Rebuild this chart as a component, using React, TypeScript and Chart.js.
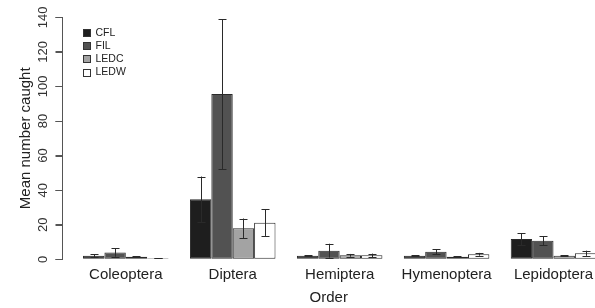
import React, { useEffect, useRef } from "react";
import { Chart, registerables } from "chart.js";

Chart.register(...registerables);

const categories = ["Coleoptera", "Diptera", "Hemiptera", "Hymenoptera", "Lepidoptera"];
const seriesNames = ["CFL", "FIL", "LEDC", "LEDW"];
const cflMean = [2.0, 34.7, 2.1, 2.1, 11.7];
const cflErr = [0.8, 13.2, 0.3, 0.3, 3.5];
const filMean = [4.0, 95.6, 5.0, 4.4, 10.8];
const filErr = [2.5, 43.4, 4.0, 1.4, 2.6];
const ledcMean = [1.5, 17.9, 2.3, 1.5, 2.0];
const ledcErr = [0.4, 5.7, 0.8, 0.4, 0.3];
const ledwMean = [0.6, 21.2, 2.3, 2.9, 3.5];
const ledwErr = [0.1, 7.7, 1.0, 0.8, 1.5];
const yTicks = [0, 20, 40, 60, 80, 100, 120, 140];

const seriesMeans = [cflMean, filMean, ledcMean, ledwMean];
const seriesErrs = [cflErr, filErr, ledcErr, ledwErr];
const seriesColors = ["#1e1e1e", "#525252", "#a3a3a3", "#ffffff"];

const FONT = "'Liberation Sans', Arial, Helvetica, sans-serif";

const errorBarPlugin = {
  id: "errorBars",
  afterDatasetsDraw(chart: any) {
    const ctx = chart.ctx;
    const y = chart.scales.y;
    ctx.save();
    ctx.strokeStyle = "#2a2a2a";
    ctx.lineWidth = 1;
    chart.data.datasets.forEach((ds: any, di: number) => {
      const meta = chart.getDatasetMeta(di);
      meta.data.forEach((bar: any, i: number) => {
        const v = ds.data[i].y;
        const e = ds.errors[i];
        const x = Math.round(bar.x) + 0.5;
        const yT = y.getPixelForValue(v + e);
        const yB = y.getPixelForValue(v - e);
        ctx.beginPath();
        ctx.moveTo(x, yT);
        ctx.lineTo(x, yB);
        ctx.moveTo(x - 4, Math.round(yT) + 0.5);
        ctx.lineTo(x + 4, Math.round(yT) + 0.5);
        ctx.moveTo(x - 4, Math.round(yB) + 0.5);
        ctx.lineTo(x + 4, Math.round(yB) + 0.5);
        ctx.stroke();
      });
    });
    ctx.restore();
  },
};

const yAxisLinePlugin = {
  id: "yAxisLine",
  afterDraw(chart: any) {
    const ctx = chart.ctx;
    const y = chart.scales.y;
    const x = Math.round(chart.chartArea.left) - 0.5;
    ctx.save();
    ctx.strokeStyle = "#555555";
    ctx.lineWidth = 1;
    ctx.beginPath();
    const top = Math.round(y.getPixelForValue(yTicks[yTicks.length - 1])) + 0.5;
    const bottom = Math.round(y.getPixelForValue(yTicks[0])) + 0.5;
    ctx.moveTo(x, top);
    ctx.lineTo(x, bottom);
    y.ticks.forEach((t: any) => {
      const py = Math.round(y.getPixelForValue(t.value)) + 0.5;
      ctx.moveTo(x - 7, py);
      ctx.lineTo(x, py);
    });
    ctx.stroke();
    ctx.restore();
  },
};

const legendPlugin = {
  id: "innerLegend",
  afterDraw(chart: any) {
    const ctx = chart.ctx;
    const area = chart.chartArea;
    ctx.save();
    ctx.font = `10.5px ${FONT}`;
    ctx.textBaseline = "middle";
    ctx.textAlign = "left";
    chart.data.datasets.forEach((ds: any, i: number) => {
      const cy = area.top + 15.4 + i * 13.1;
      const bx = Math.round(area.left + 20) + 0.5;
      const by = Math.round(cy - 3.5) + 0.5;
      ctx.fillStyle = ds.backgroundColor;
      ctx.fillRect(bx, by, 7, 7);
      ctx.strokeStyle = "#333";
      ctx.lineWidth = 1;
      ctx.strokeRect(bx, by, 7, 7);
      ctx.fillStyle = "#222";
      ctx.fillText(ds.label, area.left + 33, cy);
    });
    ctx.restore();
  },
};

export default function App() {
  const ref = useRef<HTMLCanvasElement | null>(null);
  useEffect(() => {
    if (!ref.current) return;
    const datasets = seriesNames.map((name, s) => ({
      label: name,
      data: categories.map((_, i) => ({ x: i, y: seriesMeans[s][i] })),
      errors: seriesErrs[s],
      backgroundColor: seriesColors[s],
      borderColor: "#2a2a2a",
      borderWidth: 1,
      borderSkipped: false,
      categoryPercentage: 0.8,
      barPercentage: 1.0,
    }));
    const chart = new Chart(ref.current, {
      type: "bar",
      data: { datasets } as any,
      plugins: [errorBarPlugin, yAxisLinePlugin, legendPlugin],
      options: {
        animation: false,
        responsive: false,
        devicePixelRatio: 1,
        layout: { padding: { top: 17.3, left: 0, right: 0, bottom: 0 } },
        plugins: { legend: { display: false }, tooltip: { enabled: false } },
        scales: {
          x: {
            type: "linear",
            offset: false,
            min: -0.592,
            max: 4.388,
            grid: { display: false, drawTicks: false },
            border: { display: false },
            afterBuildTicks: (s: any) => {
              s.ticks = categories.map((_, i) => ({ value: i }));
            },
            afterFit: (s: any) => {
              s.height = 48.7;
              s.paddingLeft = 0;
              s.paddingRight = 0;
            },
            ticks: {
              autoSkip: false,
              maxRotation: 0,
              minRotation: 0,
              padding: 7,
              color: "#222",
              font: { family: FONT, size: 15 },
              callback: (v: any) => categories[v] ?? "",
            },
            title: {
              display: true,
              text: "Order",
              color: "#222",
              font: { family: FONT, size: 15 },
              padding: { top: 0, bottom: 1 },
            },
          },
          y: {
            type: "linear",
            position: "left",
            min: 0,
            max: 140,
            afterBuildTicks: (s: any) => {
              s.ticks = yTicks.map((v) => ({ value: v }));
            },
            afterFit: (s: any) => {
              s.width = 62.5;
            },
            grid: {
              display: true,
              drawOnChartArea: false,
              drawTicks: true,
              tickLength: 7,
              color: "#555555",
              lineWidth: 1,
            },
            border: { display: true, color: "#555555", width: 1 },
            ticks: {
              minRotation: 90,
              maxRotation: 90,
              crossAlign: "center",
              padding: 1,
              color: "#333",
              font: { family: FONT, size: 13 },
            },
            title: {
              display: true,
              text: "Mean number caught",
              color: "#222",
              font: { family: FONT, size: 15 },
              padding: { top: 17, bottom: 0 },
            },
          },
        },
      } as any,
    });
    return () => chart.destroy();
  }, []);
  return (
    <div style={{ position: "absolute", left: 0, top: 0, width: 595, height: 308, overflow: "hidden", background: "#fff" }}>
      <canvas ref={ref} width={595} height={308} style={{ width: 595, height: 308, display: "block" }} />
    </div>
  );
}
